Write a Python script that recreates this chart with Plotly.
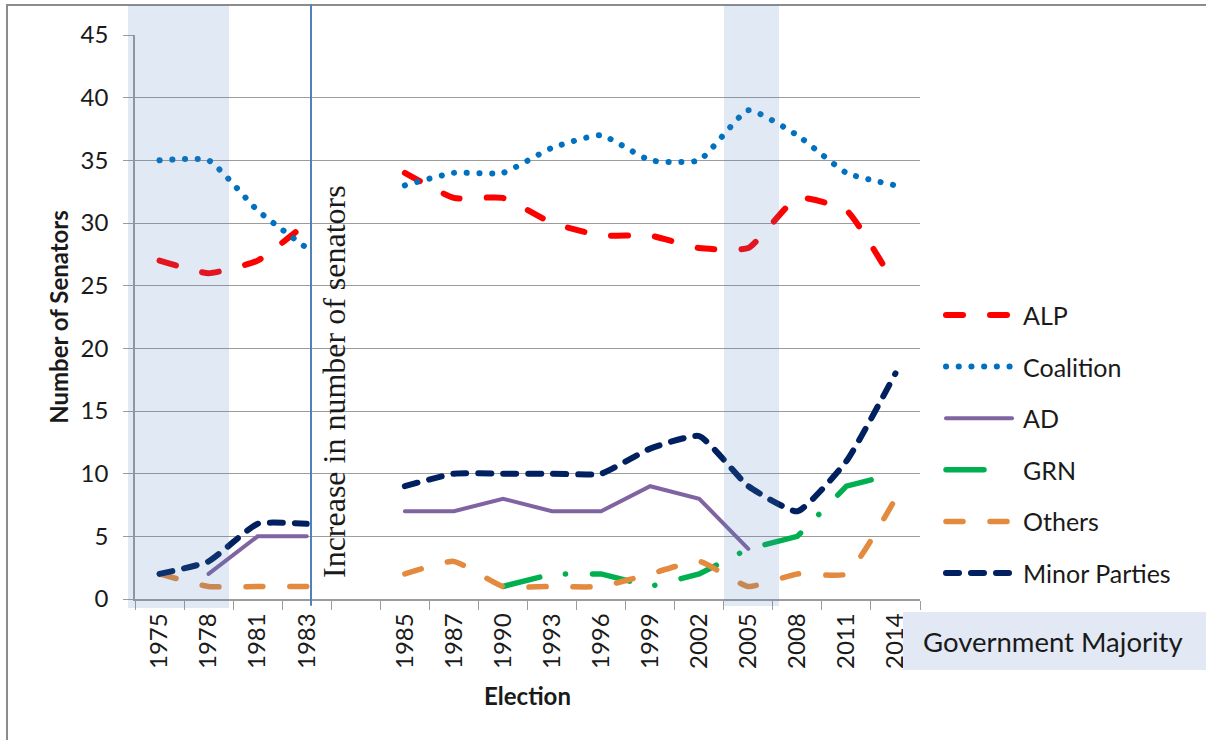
import plotly.graph_objects as go

# ---------------- data ----------------
elections = ["1975", "1978", "1981", "1983", " ", "1985", "1987", "1990", "1993",
             "1996", "1999", "2002", "2005", "2008", "2011", "2014"]
alp = [27, 26, 27, 30, None, 34, 32, 32, 30, 29, 29, 28, 28, 32, 31, 25]
coalition = [35, 35, 31, 28, None, 33, 34, 34, 36, 37, 35, 35, 39, 37, 34, 33]
ad = [None, 2, 5, 5, None, 7, 7, 8, 7, 7, 9, 8, 4, None, None, None]
grn = [None, None, None, None, None, None, None, 1, 2, 2, 1, 2, 4, 5, 9, 10]
others = [2, 1, 1, 1, None, 2, 3, 1, 1, 1, 2, 3, 1, 2, 2, 8]
minor_parties = [2, 3, 6, 6, None, 9, 10, 10, 10, 10, 12, 13, 9, 7, 11, 18]

y_ticks = [0, 5, 10, 15, 20, 25, 30, 35, 40, 45]

series = [
    ("ALP", alp, "#FF0000", "17px,27px", 6, "spline"),
    ("Coalition", coalition, "#0070C0", "0.1px,12.6px", 6, "spline"),
    ("AD", ad, "#8064A2", "solid", 4, "linear"),
    ("GRN", grn, "#00B050", "38px,26px,0.1px,27px", 5.5, "linear"),
    ("Others", others, "#E38A3E", "17px,27px", 5.5, "spline"),
    ("Minor Parties", minor_parties, "#002060", "13px,12px", 6, "spline"),
]

# ---------------- layout geometry (pixels) ----------------
W, H = 1206, 740
PL, PR, PT, PB = 135, 920, 35, 599


def px_x(px):
    return (px - PL) / (PR - PL)


def px_y(py):
    return (PB - py) / (PB - PT)


FONT = "Lato"
TXT = "#1a1a1a"
GRID = "#9C9C9C"
SHADE = "rgba(79,129,189,0.17)"

fig = go.Figure()
for name, vals, color, dash, width, shape in series:
    fig.add_trace(go.Scatter(
        x=elections, y=vals, name=name, mode="lines",
        line=dict(color=color, width=width, dash=dash, shape=shape, smoothing=0.45),
        connectgaps=False, showlegend=False,
    ))

shapes = []
annotations = []

# outer chart frame
shapes.append(dict(type="rect", xref="paper", yref="paper",
                   x0=px_x(7), x1=px_x(1260), y0=px_y(5), y1=px_y(800),
                   line=dict(color="#8C8C8C", width=2), fillcolor="rgba(0,0,0,0)",
                   layer="below"))

# government majority shading
shapes.append(dict(type="rect", xref="paper", yref="paper",
                   x0=px_x(128), x1=px_x(229), y0=px_y(608), y1=px_y(5),
                   line=dict(width=0), fillcolor=SHADE, layer="above"))
shapes.append(dict(type="rect", xref="paper", yref="paper",
                   x0=px_x(724), x1=px_x(779), y0=px_y(606), y1=px_y(5),
                   line=dict(width=0), fillcolor=SHADE, layer="above"))
# government majority legend box
shapes.append(dict(type="rect", xref="paper", yref="paper",
                   x0=px_x(903), x1=px_x(1260), y0=px_y(670), y1=px_y(612),
                   line=dict(width=0), fillcolor="rgb(226,233,244)", layer="above"))
annotations.append(dict(text="Government Majority", xref="paper", yref="paper",
                        x=px_x(921), y=px_y(641), xanchor="left", yanchor="middle",
                        showarrow=False, font=dict(family=FONT, size=27.5, color=TXT)))

# vertical separator line
shapes.append(dict(type="line", xref="paper", yref="paper",
                   x0=px_x(311), x1=px_x(311), y0=px_y(5), y1=px_y(605),
                   line=dict(color="#4F81BD", width=2), layer="above"))
annotations.append(dict(text="Increase in number of senators", xref="paper", yref="paper",
                        x=px_x(334), y=px_y(382), xanchor="center", yanchor="middle",
                        textangle=-90, showarrow=False,
                        font=dict(family="Liberation Serif", size=32, color=TXT)))

# legend (manual, to match the long line samples)
legend_ends = {"GRN": 990}
for i, (name, vals, color, dash, width, shape) in enumerate(series):
    yc = 315 + 51.6 * i
    shapes.append(dict(type="line", xref="paper", yref="paper",
                       x0=px_x(946), x1=px_x(legend_ends.get(name, 1012)),
                       y0=px_y(yc), y1=px_y(yc),
                       line=dict(color=color, width=width, dash=dash), layer="above"))
    annotations.append(dict(text=name, xref="paper", yref="paper",
                            x=px_x(1021), y=px_y(yc), xanchor="left", yanchor="middle",
                            showarrow=False, font=dict(family=FONT, size=25, color=TXT)))

fig.update_layout(
    width=W, height=H,
    margin=dict(l=PL, r=W - PR, t=PT, b=H - PB, autoexpand=False),
    paper_bgcolor="white", plot_bgcolor="white",
    showlegend=False,
    shapes=shapes, annotations=annotations,
    font=dict(family=FONT, color=TXT),
)
fig.update_xaxes(
    type="category", categoryorder="array", categoryarray=elections,
    range=[-0.5, len(elections) - 0.5],
    tickson="boundaries", ticks="outside", ticklen=9, tickwidth=1.3, tickcolor=GRID,
    tickangle=-90, tickfont=dict(family=FONT, size=24, color=TXT),
    ticklabelstandoff=3,
    showline=True, linecolor=GRID, linewidth=1.5, showgrid=False,
    title=dict(text="Election", standoff=20,
               font=dict(family=FONT, size=24, color=TXT, weight="bold")),
)
fig.update_yaxes(
    range=[0, 45], tickvals=y_ticks, ticks="outside", ticklen=10, tickwidth=1.3,
    tickcolor=GRID, tickfont=dict(family=FONT, size=24, color=TXT),
    ticklabelstandoff=10,
    showline=True, linecolor=GRID, linewidth=1.5,
    showgrid=True, gridcolor=GRID, gridwidth=1.3, zeroline=False,
    title=dict(text="Number of Senators", standoff=5,
               font=dict(family=FONT, size=24, color=TXT, weight="bold")),
)

post = ("document.body.style.margin='0';"
        "var s=document.createElement('style');"
        "s.innerHTML='.js-line, .shapelayer path{stroke-linecap:round;}';"
        "document.head.appendChild(s);")
fig.write_html("out.html", post_script=post, config={"displayModeBar": False})
